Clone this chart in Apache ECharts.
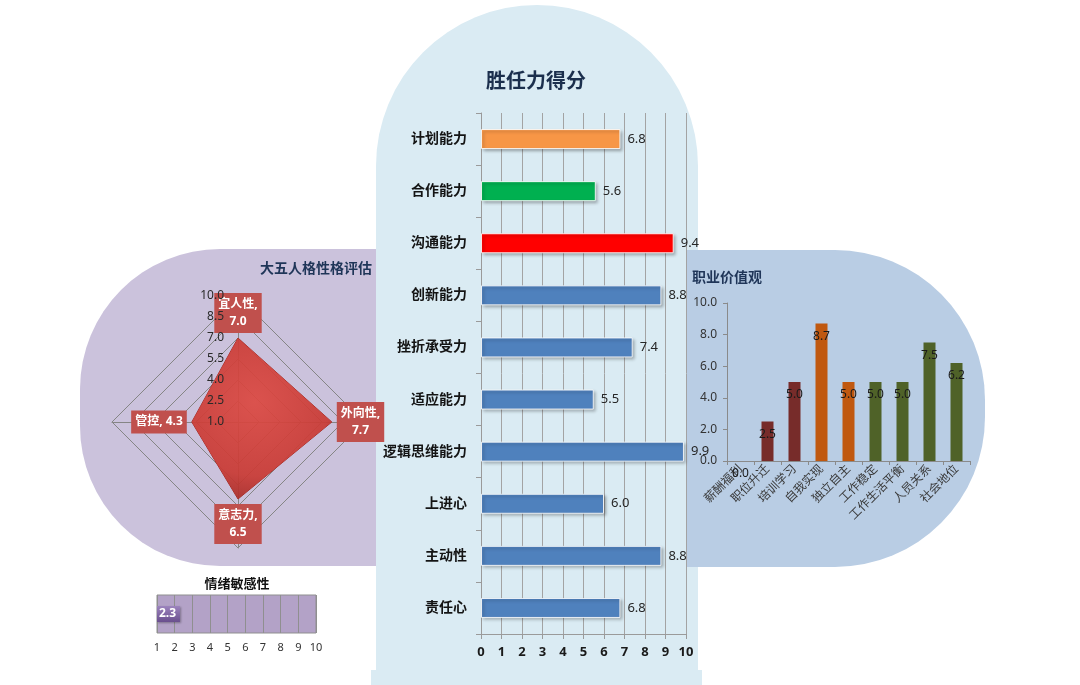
<!DOCTYPE html>
<html>
<head>
<meta charset="utf-8">
<script src="https://cdn.jsdelivr.net/npm/echarts@6/dist/echarts.min.js"></script>
<style>
html,body{margin:0;padding:0;background:#fff;}
#c{width:1080px;height:685px;}
</style>
</head>
<body>
<div id="c"></div>
<script>
// ---------- data ----------
const compCats = ['计划能力','合作能力','沟通能力','创新能力','挫折承受力','适应能力','逻辑思维能力','上进心','主动性','责任心'];
const compValues = [6.8, 5.6, 9.4, 8.8, 7.4, 5.5, 9.9, 6.0, 8.8, 6.8];
const compColors = ['#f79646','#00b050','#ff0000','#4f81bd','#4f81bd','#4f81bd','#4f81bd','#4f81bd','#4f81bd','#4f81bd'];

const bigFiveNames = ['宜人性','管控','意志力','外向性'];
const bigFiveValues = [7.0, 4.3, 6.5, 7.7];
const bigFiveScale = [1.0, 2.5, 4.0, 5.5, 7.0, 8.5, 10.0];

const emoTitle = '情绪敏感性';
const emoCats = ['情绪敏感性'];
const emoValues = [2.3];

const valueCats = ['薪酬福利','职位升迁','培训学习','自我实现','独立自主','工作稳定','工作生活平衡','人员关系','社会地位'];
const valueScores = [0.0, 2.5, 5.0, 8.7, 5.0, 5.0, 5.0, 7.5, 6.2];
const valueColors = ['#772c2a','#772c2a','#772c2a','#c0580f','#c0580f','#4f6228','#4f6228','#4f6228','#4f6228'];

// ---------- layout ----------
const FONT = "'Noto Sans', 'Noto Sans CJK SC', sans-serif";
const radarC = [238, 422], radarR = 126;
const labelPos = ['top','left','bottom','right'];

const chart = echarts.init(document.getElementById('c'));

const radarLabelPts = bigFiveValues.map((v, i) => {
  const r = (v - 1) / 9;
  const a = Math.PI / 2 + i * Math.PI / 2;
  const txt = i === 1
    ? '{b|' + bigFiveNames[i] + ', ' + v.toFixed(1) + '}'
    : '{b|' + bigFiveNames[i] + ',}\n{b|' + v.toFixed(1) + '}';
  return {
    value: [r * Math.cos(a), r * Math.sin(a)],
    label: { position: labelPos[i], formatter: txt }
  };
});

const option = {
  animation: false,
  textStyle: { fontFamily: FONT },
  graphic: [
    { type: 'rect', z: -20, shape: { x: 80, y: 249, width: 320, height: 317, r: [140, 0, 0, 140] }, style: { fill: '#cbc2dc' } },
    { type: 'rect', z: -15, shape: { x: 376, y: 5, width: 322, height: 680, r: [161, 161, 0, 0] }, style: { fill: '#daebf3' } },
    { type: 'rect', z: -15, shape: { x: 371, y: 670, width: 331, height: 15 }, style: { fill: '#daebf3' } },
    { type: 'rect', z: -10, shape: { x: 687, y: 250, width: 298, height: 317, r: [0, 150, 150, 0] }, style: { fill: '#b9cde4' } },
    { type: 'text', z: 10, x: 536, y: 80, style: { text: '胜任力得分', align: 'center', verticalAlign: 'middle', font: "bold 20px 'Noto Sans CJK SC', sans-serif", fill: '#1b2f4d' } },
    { type: 'text', z: 10, x: 316, y: 268, style: { text: '大五人格性格评估', align: 'center', verticalAlign: 'middle', font: "bold 14px 'Noto Sans CJK SC', sans-serif", fill: '#1f3558' } },
    { type: 'text', z: 10, x: 692, y: 277, style: { text: '职业价值观', align: 'left', verticalAlign: 'middle', font: "bold 14px 'Noto Sans CJK SC', sans-serif", fill: '#1f3558' } },
    { type: 'text', z: 10, x: 237, y: 583, style: { text: emoTitle, align: 'center', verticalAlign: 'middle', font: "bold 13px 'Noto Sans CJK SC', sans-serif", fill: '#111' } }
  ],
  radar: {
    center: radarC,
    radius: radarR,
    startAngle: 90,
    splitNumber: 6,
    shape: 'polygon',
    indicator: bigFiveNames.map(n => ({ name: n, min: 1, max: 10 })),
    axisName: { show: false },
    splitArea: { show: false },
    splitLine: { lineStyle: { color: '#858585', width: 1 } },
    axisLine: { lineStyle: { color: '#858585', width: 1 } },
    axisTick: { show: false },
    axisLabel: { show: false }
  },
  grid: [
    { left: 481, top: 113, width: 205, height: 521 },
    { left: 727, top: 303, width: 243, height: 158 },
    { left: 157, top: 595, width: 159, height: 38, show: true, backgroundColor: '#b3a2c7', borderColor: '#8f8f8f', borderWidth: 1 },
    { left: radarC[0] - radarR, top: radarC[1] - radarR, width: radarR * 2, height: radarR * 2 },
    { left: radarC[0], top: radarC[1] - radarR, width: 10, height: radarR }
  ],
  xAxis: [
    { gridIndex: 0, type: 'value', min: 0, max: 10, interval: 1,
      axisLine: { show: true, lineStyle: { color: '#9a9a9a' } },
      axisTick: { show: true, length: 5, lineStyle: { color: '#9a9a9a' } },
      splitLine: { show: true, lineStyle: { color: '#a3a3a3' } },
      axisLabel: { fontSize: 13, fontWeight: 'bold', color: '#1a1a1a', margin: 12, formatter: v => String(v) } },
    { gridIndex: 1, type: 'category', data: valueCats,
      axisLine: { show: true, lineStyle: { color: '#8a8a8a' } },
      axisTick: { show: true, length: 4, lineStyle: { color: '#8a8a8a' } },
      axisLabel: { rotate: 45, fontSize: 12, color: '#3a3a3a', margin: 6, interval: 0 } },
    { gridIndex: 2, type: 'value', min: 1, max: 10, interval: 1,
      axisLine: { show: false }, axisTick: { show: false },
      splitLine: { show: true, lineStyle: { color: '#8f8f8f' } },
      axisLabel: { fontSize: 11, color: '#333', margin: 9 } },
    { gridIndex: 3, type: 'value', min: -1, max: 1, show: false },
    { gridIndex: 4, type: 'value', min: 0, max: 1, show: false }
  ],
  yAxis: [
    { gridIndex: 0, type: 'category', data: compCats, inverse: true,
      axisLine: { show: true, lineStyle: { color: '#9a9a9a' } },
      axisTick: { show: true, length: 5, lineStyle: { color: '#9a9a9a' } },
      axisLabel: { fontSize: 14, fontWeight: 'bold', color: '#141414', margin: 14 } },
    { gridIndex: 1, type: 'value', min: 0, max: 10, interval: 2,
      axisLine: { show: true, lineStyle: { color: '#8a8a8a' } },
      axisTick: { show: true, length: 4, lineStyle: { color: '#8a8a8a' } },
      splitLine: { show: false },
      axisLabel: { fontSize: 12, color: '#333', margin: 10, formatter: v => v.toFixed(1) } },
    { gridIndex: 2, type: 'category', data: emoCats, show: false },
    { gridIndex: 3, type: 'value', min: -1, max: 1, show: false },
    { gridIndex: 4, type: 'value', z: 10, min: bigFiveScale[0], max: bigFiveScale[bigFiveScale.length - 1], interval: 1.5,
      axisLine: { show: false }, axisTick: { show: false }, splitLine: { show: false },
      axisLabel: { fontSize: 12, color: '#2a2a2a', margin: 14, formatter: v => v.toFixed(1) } }
  ],
  series: [
    { type: 'bar', xAxisIndex: 0, yAxisIndex: 0, barWidth: 20, z: 3,
      data: compValues.map((v, i) => ({ value: v, itemStyle: { color: compColors[i] } })),
      itemStyle: { borderColor: 'rgba(255,255,255,0.85)', borderWidth: 1, shadowColor: 'rgba(0,0,0,0.3)', shadowBlur: 3, shadowOffsetX: 2, shadowOffsetY: 2 },
      label: { show: true, position: 'right', distance: 7, fontSize: 13, color: '#262626', formatter: p => p.value.toFixed(1) } },
    { type: 'bar', xAxisIndex: 1, yAxisIndex: 1, barWidth: 12,
      data: valueScores.map((v, i) => ({ value: v, itemStyle: { color: valueColors[i] } })),
      label: { show: true, position: 'insideTop', distance: 7, fontSize: 12, color: '#1a1a1a', formatter: p => p.value.toFixed(1) } },
    { type: 'bar', xAxisIndex: 2, yAxisIndex: 2, barWidth: 16, z: 3,
      data: emoValues,
      itemStyle: { color: new echarts.graphic.LinearGradient(0, 0, 0, 1, [{ offset: 0, color: '#9c84bd' }, { offset: 1, color: '#6a4f8e' }]),
        shadowColor: 'rgba(0,0,0,0.3)', shadowBlur: 2, shadowOffsetX: 1, shadowOffsetY: 1 },
      label: { show: true, position: 'insideLeft', distance: 2, fontSize: 12, fontWeight: 'bold', color: '#fff', formatter: p => p.value.toFixed(1) } },
    { type: 'radar', radarIndex: 0, symbol: 'none', z: 2,
      data: [{ value: bigFiveValues, name: '大五人格' }],
      lineStyle: { color: '#9e2f2b', width: 1 },
      areaStyle: { opacity: 0.93, color: new echarts.graphic.RadialGradient(0.45, 0.4, 0.75, [{ offset: 0, color: '#dc4a43' }, { offset: 0.7, color: '#c93b35' }, { offset: 1, color: '#a22925' }]) } },
    { type: 'scatter', xAxisIndex: 3, yAxisIndex: 3, symbolSize: 0, z: 6,
      itemStyle: { opacity: 1 },
      data: radarLabelPts,
      label: { show: true, distance: 5, backgroundColor: '#c0504d', opacity: 1, padding: [3, 4],
        rich: { b: { fontSize: 12, fontWeight: 'bold', color: '#fff', lineHeight: 17, align: 'center' } } } },
    { type: 'scatter', xAxisIndex: 4, yAxisIndex: 4, symbolSize: 0, data: [] }
  ]
};
chart.setOption(option);
</script>
</body>
</html>
